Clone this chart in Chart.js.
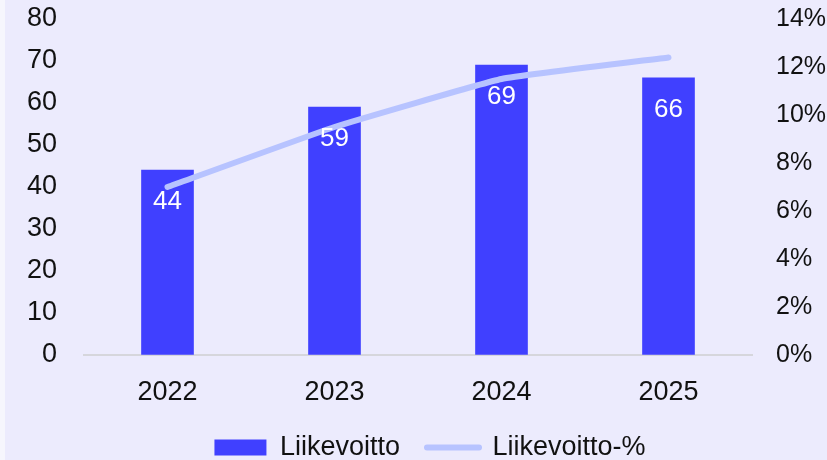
<!DOCTYPE html>
<html>
<head>
<meta charset="utf-8">
<script src="https://cdn.jsdelivr.net/npm/chart.js@4.4.1/dist/chart.umd.min.js"></script>
<style>
  html, body { margin: 0; padding: 0; background: #F6F6FD; }
  #wrap { position: absolute; left: 5px; top: 0; width: 822px; height: 460px; background: #ECEBFD; }
  canvas { display: block; }
</style>
</head>
<body>
<div id="wrap"><canvas id="c" width="822" height="460"></canvas></div>
<script>
const categories = ['2022', '2023', '2024', '2025'];
const operatingProfit = [44, 59, 69, 66];
const operatingMarginPct = [7.0, 9.5, 11.5, 12.4];
const seriesNames = ['Liikevoitto', 'Liikevoitto-%'];

const FONT = "'Liberation Sans', Arial, sans-serif";
const TEXT = '#111111';

const barLabels = {
  id: 'barLabels',
  afterDatasetsDraw(chart) {
    const ctx = chart.ctx;
    const meta = chart.getDatasetMeta(1);
    ctx.save();
    ctx.fillStyle = '#FFFFFF';
    ctx.font = '26px ' + FONT;
    ctx.textAlign = 'center';
    ctx.textBaseline = 'middle';
    meta.data.forEach((bar, i) => {
      ctx.fillText(String(operatingProfit[i]), bar.x, bar.y + 32);
    });
    ctx.restore();
  }
};

const leftTickGrid = { display: true, drawOnChartArea: false, drawTicks: true, tickLength: 27, color: 'rgba(0,0,0,0)' };
const rightTickGrid = { display: true, drawOnChartArea: false, drawTicks: true, tickLength: 24, color: 'rgba(0,0,0,0)' };

new Chart(document.getElementById('c'), {
  data: {
    labels: categories,
    datasets: [
      {
        type: 'line',
        label: seriesNames[1],
        data: operatingMarginPct,
        yAxisID: 'y1',
        borderColor: '#B7C3FF',
        backgroundColor: '#B7C3FF',
        borderWidth: 6,
        borderCapStyle: 'round',
        pointRadius: 0,
        pointHoverRadius: 0,
        tension: 0.1,
        clip: false,
        order: 1
      },
      {
        type: 'bar',
        label: seriesNames[0],
        data: operatingProfit,
        yAxisID: 'y',
        backgroundColor: '#4040FF',
        barThickness: 52,
        order: 2
      }
    ]
  },
  options: {
    responsive: false,
    animation: false,
    events: [],
    layout: { padding: { top: 19, right: -28, left: 0, bottom: -11 } },
    plugins: {
      tooltip: { enabled: false },
      legend: {
        position: 'bottom',
        reverse: true,
        labels: {
          font: { family: FONT, size: 27 },
          color: TEXT,
          usePointStyle: true,
          boxWidth: 52,
          boxHeight: 16,
          pointStyleWidth: 52,
          padding: 27,
          generateLabels(chart) {
            return chart.data.datasets.map((ds, i) => ({
              text: ds.label,
              fillStyle: ds.type === 'bar' ? ds.backgroundColor : 'rgba(0,0,0,0)',
              strokeStyle: ds.type === 'bar' ? ds.backgroundColor : ds.borderColor,
              lineWidth: ds.type === 'bar' ? 0 : 6,
              lineCap: 'round',
              pointStyle: ds.type === 'bar' ? 'rect' : 'line',
              fontColor: TEXT,
              hidden: false,
              datasetIndex: i
            }));
          }
        }
      }
    },
    scales: {
      x: {
        grid: { display: false, drawTicks: false },
        border: { display: true, color: '#D6D6DC', width: 2 },
        ticks: { font: { family: FONT, size: 27 }, color: TEXT, padding: 21 },
        afterFit(s) { s.height = 52; }
      },
      y: {
        position: 'left',
        min: 0, max: 80,
        ticks: { stepSize: 10, font: { family: FONT, size: 27 }, color: TEXT, padding: 0 },
        grid: leftTickGrid,
        border: { display: false },
        afterFit(s) { s.width = 79; }
      },
      y1: {
        position: 'right',
        min: 0, max: 14,
        ticks: {
          stepSize: 2,
          font: { family: FONT, size: 25 },
          color: TEXT,
          padding: 0,
          callback: v => v + '%'
        },
        grid: rightTickGrid,
        border: { display: false },
        afterFit(s) { s.width = 103; }
      }
    }
  },
  plugins: [barLabels]
});
</script>
</body>
</html>
